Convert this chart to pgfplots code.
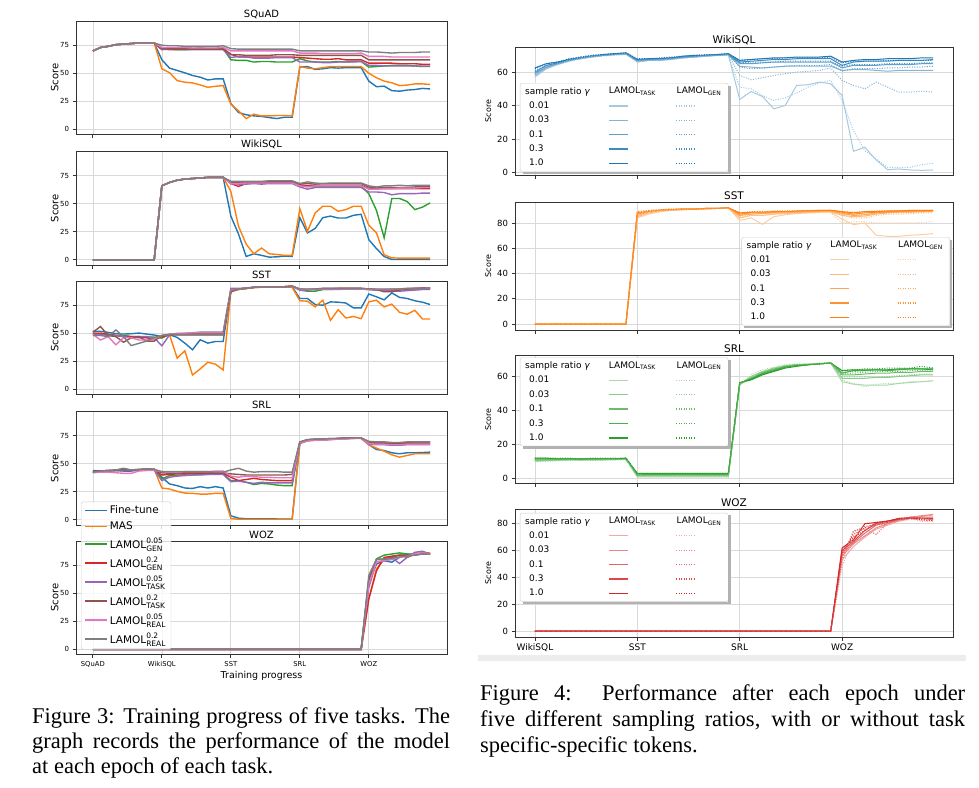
\documentclass[border=0pt]{standalone}
\usepackage{pgfplots}
\pgfplotsset{compat=1.18}
\usepackage{pgfplotstable}
\usepackage{fontspec}
\setmainfont{DejaVu Sans}
\newfontfamily\capfont{Liberation Serif}
\definecolor{c0}{HTML}{1F77B4}
\definecolor{c1}{HTML}{FF7F0E}
\definecolor{c2}{HTML}{2CA02C}
\definecolor{c3}{HTML}{D62728}
\definecolor{c4}{HTML}{9467BD}
\definecolor{c5}{HTML}{8C564B}
\definecolor{c6}{HTML}{E377C2}
\definecolor{c7}{HTML}{7F7F7F}

\pgfplotstableread[row sep=\\]{
x ft mas g05 g2 t05 t2 r05 r2\\
0 70 70 70 70 70 70 70 69.5\\
1 73 73 73 73 73 73 73 73\\
2 74 74 74 74 74 74 74 74\\
3 75.5 75.5 75.5 75.5 75.5 75.5 75.5 75.5\\
4 76 76 76 76 76 76 76 76\\
5 76.5 76.5 76.5 76.5 76.5 76.5 76.5 76.5\\
6 77 77 77 77 77 77 77 77\\
7 77 77 77 77 77 77 77 77\\
8 77 77 77 77 77 77 77 77\\
9 62 54 72 71 71.5 72 73 75\\
10 54.6 50.5 71.5 72 71 71.5 73 74.5\\
11 52.5 43.5 71 72.5 71 71.5 73 74.5\\
12 50.4 42 71 72 71 71.5 73 74\\
13 48 41.4 71.5 72 71 71.5 72.5 74\\
14 46.5 39.6 71.5 72.5 71 71.5 72.5 74\\
15 44 37.5 71.5 72 71 71.5 72.5 74\\
16 45 38.4 71.5 72 71 71.5 72.5 74\\
17 45 39 72 72 71 71.5 73 74.5\\
18 23 22.5 62 67 64 66.5 70 72\\
19 15 16.5 61.5 64.5 65 66.5 70 71.5\\
20 13 9.6 61.5 64.5 64.5 66 70 71.5\\
21 12 13.5 60 64.5 63.5 66 70 71.5\\
22 11.5 12 60.5 64.5 63.5 66 70 71.5\\
23 10.5 12 60.5 64.5 63.5 66 70 71.5\\
24 9.6 12.3 60 64.5 64 66.5 70 71.5\\
25 10.8 12.3 60 64.5 64 66.5 70 71.5\\
26 10.8 12 60 64.5 64 66.5 70 71.5\\
27 55.5 56 63 64 60 66 68 70\\
28 56 54.6 61 63.5 60 66 68 70\\
29 53.4 54 60 63 60 66 68 70\\
30 54 55 60 62.5 59.5 66 67.5 70\\
31 55 56 60 62.5 59.5 66 67.5 70\\
32 54.6 56 60.5 63 60 66 67.5 70\\
33 55 56 60 62 60 66 67.5 70\\
34 55 56 60.5 62 60 66 67.5 70\\
35 55 56 60.5 62 60.5 66 68 70\\
36 43 50 55.5 59 57 62 65 69\\
37 38 46 56 59 57 62 65 69\\
38 38.5 43 56.5 59 56.5 62 65 68.5\\
39 34.5 41.5 57 59 56.5 62 64.5 68\\
40 34 39 57 58.5 56.5 62 64.5 68.5\\
41 35 39.5 57 58.5 56.5 62 64.5 68.5\\
42 35.5 40.5 56.5 58.5 56.5 62 64.5 68.5\\
43 36.5 40.5 56 58 56.5 62 64.5 69\\
44 36 40 56 58 56.5 62 64.5 69\\
}\sq

\pgfplotstableread[row sep=\\]{
x ft mas g05 g2 t05 t2 r05 r2\\
0 0 0 0 0 0 0 0 0\\
8 0 0 0 0 0 0 0 0\\
9 66 66 66 66 66 66 66 66\\
10 69 69 69 69 69 69 69 69\\
11 71 71 71 71 71 71 71 71\\
12 72 72 72 72 72 72 72 72\\
13 72.5 72.5 72.5 72.5 72.5 72.5 72.5 72.5\\
14 73 73 73 73 73 73 73 73\\
15 73.5 73.5 73.5 73.5 73.5 73.5 73.5 73.5\\
16 73.5 73.5 73.5 73.5 73.5 73.5 73.5 73.5\\
17 73.5 73.5 73.5 73.5 73.5 73.5 73.5 73.5\\
18 39 61 69 68 68 69.5 68 70\\
19 23 30 68.5 65.5 67.5 69 68 70\\
20 3 14 68.5 68 67.5 69 68.5 70\\
21 5.4 5.4 68.5 68.5 68 69 68.5 70\\
22 4 10.5 68.5 68.5 67.5 69.5 68.5 70\\
23 2.4 5.4 68.5 68.5 68 69.5 68.5 70.5\\
24 2.7 4.8 68.5 68.5 68 69.5 68.5 70.5\\
25 3.3 4 68.5 68.5 68 69.5 68.5 70.5\\
26 3 4 68.5 68.5 68 69.5 68.5 70.5\\
27 37.6 45.7 66 67 65 68 66 68\\
28 24 25.4 65.5 66 63 68 65 69.5\\
29 28 41.8 65 66.5 64.5 67.5 66 68.5\\
30 37.6 47.8 65 66.5 64.5 68 66 68\\
31 39 47.8 65 66.5 64.5 68 66 68.5\\
32 37.3 43.3 65 66.5 64.5 68 66 68.5\\
33 37.3 44.8 65 66.5 64.5 68 66 68.5\\
34 39.7 47.8 65 66.5 64.5 68 66 68.5\\
35 40.6 47.8 65.5 66.5 64.5 68 66 68.5\\
36 18 30.8 59 63.5 60.5 65 63 66\\
37 10 24 44 63.5 60.5 64 63 65\\
38 3 4.5 19.7 63.5 60 64.5 63.5 66\\
39 0.3 1.8 54.7 63.5 58 64.5 63.5 66\\
40 0.3 1.5 54.7 63.5 59 64.5 64 66.5\\
41 0.3 1.5 52 63.5 59 64.5 64 66\\
42 0.3 1.5 44.8 63.5 59 65 64 66.5\\
43 0.3 1.5 47 63.5 59.5 65 64.5 66.5\\
44 0.3 1.5 50.8 63.5 59.5 65 64.5 66.5\\
}\wk

\pgfplotstableread[row sep=\\]{
x ft mas g05 g2 t05 t2 r05 r2\\
0 51.7 50 50 50 49 51 49 48\\
1 51.7 50 49 50 49 56 44 48\\
2 50.8 49 49 49 48 48 47 47\\
3 49.6 48 48 48 48 47 39.7 53\\
4 49.3 48 48 47 47 42 46 47\\
5 49.6 47 47 47 46 46 46 39\\
6 50.2 47 47 46 47 47 44 41\\
7 49.3 46 46.5 46 47 43 44 43\\
8 48.4 46 46.5 45 46 43 45 46\\
9 47.2 48 45.7 47 38.8 48 48 48\\
10 48.7 48.7 49 48.5 48.5 49 49 49\\
11 46.3 27.8 49.5 49 50 48.5 49.5 49\\
12 41.2 34.4 49.5 49 50 48.5 50 49\\
13 35.3 12.8 49.5 49 50.5 48.5 50.5 49\\
14 44.2 18.2 49.5 49 51 48.5 50.5 49\\
15 41.2 24.2 49.5 49 51 48.5 50.5 49\\
16 42.7 22.4 49.5 49 51 48.5 50.5 49\\
17 42.7 17.3 49.5 49 51 48.5 50.5 49\\
18 88 87 88 87 90 88 88.5 88\\
19 89 89 89.5 89.5 90 89.5 89.5 89.5\\
20 90 90 90 90 90.5 90 90 90\\
21 91 90.5 91 91 91 91 91 91\\
22 91 91 91.5 91.5 91.5 91.5 91.5 91.5\\
23 91 91 91.5 91.5 91.5 91.5 91.5 91.5\\
24 91 91 91.5 91.5 91.5 91.5 91.5 91.5\\
25 91 91 91.5 91.5 91.5 91.5 91.5 91.5\\
26 91.5 91 92 92 92 92 92 92\\
27 81 79 88.5 89 88.5 89.5 89 89.5\\
28 81 78.6 87.5 89 88.5 89 89 89.5\\
29 75.6 73.5 87.5 89 89 89.5 89.5 89.5\\
30 75 79.5 89 89.5 89 90 89.5 90\\
31 78 61.5 89 89.5 89 90 89.5 90\\
32 77.7 71 89.5 90 89 90 89.5 90\\
33 77 63.6 89.5 90 89.5 90 89.5 90\\
34 72.6 65 89.5 90 89.5 90 89.5 90\\
35 72.6 63 89.5 90 89.5 90 89.5 90\\
36 85 78 89 89.5 89 89.5 89 89.5\\
37 82.5 79.5 88.5 89 88.5 89 89 89.5\\
38 79.8 73.5 88.5 89 88.5 87 89 89.5\\
39 86 76 89 88.5 87.5 87 89.5 89.5\\
40 82 68.7 89.5 89 87.5 88.5 89.5 89.5\\
41 81 67 89.5 89.5 88 89.5 90 90\\
42 79 70.5 89.5 90 88.5 90 90 90\\
43 77.7 62.7 90 90.5 89 90 90 90\\
44 75.6 62.7 90 90.5 89 90 90.5 90.5\\
}\ss

\pgfplotstableread[row sep=\\]{
x ft mas g05 g2 t05 t2 r05 r2\\
0 44 43 42.5 43 42.5 42.5 42 42.5\\
1 43.5 43 43 43.5 43 43.5 42.5 43.5\\
2 44 43.5 43.5 44 43.5 44 42.5 44\\
3 44 44 44 44 44 44.5 42 44.5\\
4 43.5 44 44 44.5 44 45 41.5 46\\
5 43.5 44 44.5 44.5 44 44.5 41.5 44.5\\
6 44.5 44.5 44.5 44.5 44.5 45 43.5 45\\
7 44.5 44.5 44.5 45 44.5 45.5 44 45.5\\
8 44.5 45 45 45 44.5 45 44 45\\
9 38 28.4 36.5 40 35 42 43 43\\
10 32 27.5 39.4 40.5 38 41.5 42.5 43\\
11 30.5 25.4 39.5 41 39 41.5 42.5 43\\
12 28.4 23.9 40 41 39.5 42 43 43\\
13 28 23.6 40 41.5 40 42 43 43\\
14 29.6 23 40.5 41.5 40 42 43 43\\
15 28.4 23 40.5 41.5 40.5 42 43 43\\
16 29.6 23.6 41 41.5 40.5 42 43.5 42.5\\
17 28.4 23.6 41 41.5 40.5 42 43.5 42.5\\
18 3.6 1.2 35 38 34 41 39 44.5\\
19 1.5 0.5 35 35 34.5 40.5 38 46\\
20 1 0.5 33.5 36 33.5 40 39 43.5\\
21 1 0.5 31.5 37 32.5 40 38.5 42.5\\
22 1 0.5 32.5 36 33.5 40 38 43\\
23 1 0.5 32 35.5 33 40 38 43\\
24 0.8 0.5 31 35 33 40 37.5 43\\
25 0.8 0.5 30.5 35 33 40 37.5 42.5\\
26 0.8 0.5 30.5 35 33 40.5 37.5 42.5\\
27 68.7 67.8 69 69 68.5 69.5 68.5 69.5\\
28 71.4 70.5 71 71 70.5 71.5 70.5 71.5\\
29 71.7 71 71.5 71.5 71 72 71 72\\
30 71.4 71 71.5 71.5 71.5 72 71 72\\
31 72 71.5 72 72 72 72.5 71.5 72.5\\
32 72.6 72 72.5 72.5 72.5 72.5 72 72.5\\
33 72.9 72.5 72.5 72.5 72.5 73 72 73\\
34 73.2 72.5 73 73 73 73 72.5 73\\
35 72.9 72.5 73 73 73 73 73 73\\
36 67 67 69 68.5 67.5 69.5 68 70\\
37 62.7 64 68.5 68 67 69 67.5 69.5\\
38 61.8 61.2 68.5 68 67 69 67.5 69.5\\
39 59.8 58 68 67.5 66.5 68.5 67 69\\
40 58.9 55.9 68 67.5 66.5 68.5 67 69\\
41 59.8 57.4 68.5 68 67 69 67.5 69.5\\
42 59.8 58.9 68.5 68 67 69.5 67.5 69.5\\
43 60 58.9 68.5 68 67 69.5 67.5 69.5\\
44 60.4 58.9 68.5 68 67 69.5 67.5 69.5\\
}\sr

\pgfplotstableread[row sep=\\]{
x ft mas g05 g2 t05 t2 r05 r2\\
0 0 0 0 0 0 0 0 0\\
35 0 0 0 0 0 0 0 0\\
36 60 45 62 45 55 62 58 66\\
37 76 72 80.7 70 78 80 78 80.4\\
38 79 80 84 82 79 80.5 79 80.5\\
39 77.7 83 85 83 82 82 80 81\\
40 82 84 86 84 76.5 84 82 82.5\\
41 85 84 85 82 82 84 83 83\\
42 84 85 85 85 86.5 84 85 84\\
43 86 86 86 85 87.5 85 86 85\\
44 85 86 85 85 85 85 85 85\\
}\wz

\pgfplotstableread[row sep=\\]{
x t1 t3 t10 t30 t100 g1 g3 g10 g30 g100\\
0 57 58 59 60 62.5 57.5 58.5 59.5 61 62\\
1 62 62.5 63 64 65 62 63 63.5 64 65\\
2 64.5 65 65 65.5 66 64.5 65 65 65.5 66\\
3 66.5 67 67 67.5 67.5 66.5 67 67 67.5 68\\
4 68 68 68.5 68.5 68.5 68 68 68.5 69 69\\
5 69 69 69.5 69.5 69.5 69 69.5 69.5 70 70\\
6 70 70 70 70 70.5 69.5 70 70 70.5 70.5\\
7 70.5 70.5 70.5 71 71 70 70.5 70.5 71 71\\
8 71 71 71 71 71.5 70.5 71 71 71 71.5\\
9 66 66.5 67 67 67.5 66 66.5 67 67.5 68\\
10 67 67 67.5 67.5 68 67 67 67.5 68 68\\
11 67 67 67.5 68 68 67 67.5 67.5 68 68.5\\
12 67.5 68 68 68.5 68.5 67.5 68 68 68.5 69\\
13 68.5 68.5 69 69 69.5 68.5 68.5 69 69 69.5\\
14 69 69 69.5 69.5 70 69 69 69.5 69.5 70\\
15 69.5 69.5 70 70 70 69.5 69.5 70 70 70.5\\
16 70 70 70 70.5 70.5 70 70 70 70.5 70.5\\
17 70.5 70.5 70.5 70.5 71 70 70.5 70.5 71 71\\
18 43.6 63.4 65 66 67 51 58 63 65.5 67\\
19 48.4 63 65 66.5 67.5 50 55.4 62 66 67.5\\
20 45.4 62.4 65.5 67 68 46 56.6 62.5 66 68\\
21 38 63 66 67.5 68.5 43 58 63 66 68\\
22 40 63.5 66 67.5 68.5 44.6 59 63.5 66.5 68.5\\
23 52 63.5 66 68 69 47.4 60 64 66.5 68.5\\
24 52.4 63.5 66 68 69 51 60.4 64 66.5 68.5\\
25 54 63.5 66 68 69 53.4 61 64 66.5 68.5\\
26 53 63.5 66 68 69.5 55 62.4 64.5 66.5 69\\
27 46 61 62.5 64 66 43 55 60.5 63.5 65.5\\
28 12.6 61.5 64 66 67 25 52 62 64.5 66.5\\
29 15 61.5 64 66.5 67.5 13 50 62 64.5 66.5\\
30 7.4 61 64 66.5 67.5 8 54 62 64.5 66.5\\
31 1.6 60.5 64.5 66.5 68 3 51 62.5 65 67\\
32 2 61 64.5 67 68 3 48 62.5 65 67\\
33 1.4 61 64.5 67 68 3 48 63 65 67\\
34 1.2 61 65 67 68.5 4.6 48.6 63 65.5 67\\
35 1.4 61 65 67.5 68.5 5.4 48 63.5 65.5 67\\
}\rw

\pgfplotstableread[row sep=\\]{
x t1 t3 t10 t30 t100 g1 g3 g10 g30 g100\\
0 0 0 0 0 0 0 0 0 0 0\\
8 0 0 0 0 0 0 0 0 0 0\\
9 84 85 86 87 88 86 87 88 88.5 89\\
10 87 88 88.5 89 89 88 88.5 89 89.5 90\\
11 89 89.5 90 90 90 89.5 90 90 90.5 90.5\\
12 90 90 90.5 90.5 90.5 90 90.5 90.5 91 91\\
13 90.5 90.5 91 91 91 90.5 91 91 91 91\\
14 91 91 91 91 91 91 91 91 91 91\\
15 91 91 91.5 91.5 91.5 91 91.5 91.5 91.5 91.5\\
16 91.5 91.5 91.5 91.5 91.5 91.5 91.5 91.5 91.5 91.5\\
17 92 92 92 92 92 91.5 92 92 92 92\\
18 82 84 86 87 88 84 85 86 87 88\\
19 84 86 87 88 88.5 86 87 88 88.5 89\\
20 79 86 87.5 88 88.5 86 87.5 88 89 89\\
21 85 87 88 88.5 89 87 88 88.5 89 89.5\\
22 86.5 87.5 88 89 89 87.5 88 88.5 89 89.5\\
23 87.5 88 88.5 89 89.5 88 88.5 89 89.5 89.5\\
24 88 88.5 89 89.5 89.5 88 89 89 89.5 90\\
25 88.5 89 89 89.5 90 88 89 89.5 90 90\\
26 88.5 89 89.5 90 90 88 89 89.5 90 90\\
27 83 86 87.5 88.5 89 80 86 87 88 89\\
28 78.7 85 86 87 88 81 84 86 87 88.5\\
29 80 85.5 86.5 88 89 81 84 86.5 88 89\\
30 70.3 87 88 88.5 89 80 86 87.5 88.5 89.5\\
31 69.5 88 88.5 89 89.5 80 87 88 89 89.5\\
32 69.5 88.5 89 89.5 89.5 80 87 88 89 89.5\\
33 70.3 88.5 89 89.5 90 80 87.5 88.5 89.5 90\\
34 70.8 89 89.5 89.5 90 80.5 88 88.5 89.5 90\\
35 71.6 89 89.5 90 90 81 88 89 89.5 90\\
}\rs

\pgfplotstableread[row sep=\\]{
x t1 t3 t10 t30 t100 g1 g3 g10 g30 g100\\
0 10 10.5 11 11.5 12 10 10.5 11 11.5 12\\
1 10.5 11 11 11.5 12 10 11 11 11.5 12\\
2 10.5 11 11 11.5 11.5 10.5 11 11.5 11.5 12\\
3 11 11 11.5 11.5 11.5 10.5 11 11.5 11.5 12\\
4 11 11 11 11.5 11.5 11 11 11 11.5 11.5\\
5 11 11 11.5 11.5 11.5 10.5 11 11.5 11.5 12\\
6 11 11 11.5 11.5 11.5 11 11 11.5 11.5 12\\
7 11 11.5 11.5 11.5 11.5 11 11.5 11.5 11.5 12\\
8 11.5 11.5 11.5 11.5 12 11 11.5 11.5 12 12\\
9 1 1.5 2 2 3 1 1.5 2 2.5 3\\
10 1 1.5 2 2.5 3 1 1.5 2 2.5 3\\
11 1 1.5 2 2.5 3 1 1.5 2 2.5 3\\
12 1 1.5 2 2.5 3 1 1.5 2 2.5 3\\
13 1 1.5 2 2.5 3 1 1.5 2.5 2.5 3\\
14 1 1.5 2 2.5 3 1 1.5 2 2.5 3\\
15 1 1.5 2 2.5 3 1 1.5 2 2.5 3\\
16 1 1.5 2 2.5 3 1 1.5 2 2.5 3\\
17 1 1.5 2 2.5 3 1 1.5 2 2.5 3\\
18 55 55.5 56 56 56.5 55 55.5 56 56 56.5\\
19 60 59 59 58.5 58 61 60 59.5 59 58.5\\
20 63 62.5 62 61.5 61 64 63 62.5 62 61.5\\
21 65 64.5 64 63.5 63 65.5 65 64.5 64 63.5\\
22 66.5 66 66 65.5 65 67 66.5 66 65.5 65.5\\
23 67 67 66.5 66.5 66 67.5 67 67 66.5 66.5\\
24 67 67 67 67 67 67.5 67.5 67 67 67\\
25 67.5 67.5 67.5 67.5 67.5 68 67.5 67.5 67.5 67.5\\
26 68 68 68 68 68 68.5 68 68 68 68\\
27 57 59 61 62 63.5 58 60 61.5 62.5 63.5\\
28 55.5 59 61 63.5 64 56 60 62 63 64\\
29 55 59 61.5 63.5 64 54 60 62.5 63.5 64.5\\
30 55 59.5 62 64 64 55.5 59.5 63 64 64.5\\
31 55 59.5 62 63.5 64 56 60 63 64 65\\
32 56 60 62.5 64 64.5 56 60.5 63 64 65\\
33 56.5 60.5 62.5 64.5 64.5 57 61 63.5 64.5 65\\
34 57 61 63 64.5 64.5 57 61.5 63.5 64.5 66\\
35 57.5 61 63 64.5 64 57.5 61.5 64 65 65\\
}\rr

\pgfplotstableread[row sep=\\]{
x t1 t3 t10 t30 t100 g1 g3 g10 g30 g100\\
0 0 0 0 0 0 0 0 0 0 0\\
26 0 0 0 0 0 0 0 0 0 0\\
27 53 56 58 60 62 48 52 55 58 60\\
28 63 65 66 67 68 70 75 74 72 70\\
29 70 71 73 75 80 77 76 78 77 75\\
30 76 77 79 80 81 72 72 79 80 81\\
31 79 80 81 82 82 80 81 80 81 82\\
32 82 83 83 84 83.5 82 82 83 84 84\\
33 84 85 84 84.5 84 83 84 85 84 84.5\\
34 85.5 86 85 84 84 84 82 84 83 83\\
35 86.5 87 85 84 83.5 85 82 83 82.5 82.5\\
}\ro

\newcommand{\lam}[2]{$\mbox{LAMOL}^{\mbox{\fontsize{7.5}{8}\selectfont #1}}_{\mbox{\fontsize{7.5}{8}\selectfont #2}}$}

\pgfplotsset{
  base/.style={scale only axis, axis line style={black!80, line width=0.8pt},
    grid=major, major grid style={black!15, line width=0.7pt},
    tick align=outside, xtick pos=bottom, ytick pos=left, major tick length=3.5pt,
    every tick/.style={black!80, line width=0.8pt},
    /pgf/number format/assume math mode=true,
    every axis title/.style={at={(0.5,1)}, anchor=south, yshift=-1pt}},
  L/.style={base, width=371pt, height=113.5pt, xmin=-2.2, xmax=46.2, ymin=-4.6, ymax=96.6,
    xtick={0,9,18,27,36}, ytick={0,25,50,75}, xticklabels={},
    tick label style={font=\fontsize{7}{8}\selectfont},
    ylabel=Score, ylabel style={font=\fontsize{10}{11}\selectfont, at={(axis description cs:-0.057,0.5)}, anchor=center},
    title style={font=\fontsize{10}{11}\selectfont},
    every axis plot/.append style={line width=1.4pt}},
  R/.style={base, width=438pt, height=128pt, xmin=-1.75, xmax=36.75,
    xtick={0,9,18,27}, xticklabels={},
    tick label style={font=\fontsize{8.5}{9}\selectfont},
    ylabel=Score, ylabel style={font=\fontsize{8}{9}\selectfont, at={(axis description cs:-0.061,0.5)}, anchor=center},
    title style={font=\fontsize{10.5}{11}\selectfont},
    legend columns=3, legend cell align=left,
    legend style={font=\fontsize{9}{10}\selectfont, draw=black!20, fill=white, rounded corners=2pt,
      /tikz/every even column/.append style={column sep=16pt}, row sep=2.2pt}},
  hdrTASK/.style={legend image code/.code={\node[anchor=west,inner sep=0pt] at (0pt,0pt) {LAMOL\textsubscript{TASK}};}},
  hdrGEN/.style={legend image code/.code={\node[anchor=west,inner sep=0pt] at (0pt,0pt) {LAMOL\textsubscript{GEN}};}},
  rline/.style={legend image code/.code={\draw[##1, line width=1.3pt] (0pt,0pt) -- (19pt,0pt);}},
  rsol/.style={line width=1pt},
  rdot/.style={line width=1pt, dash pattern=on 1pt off 1.5pt},
}

\newcommand{\lplots}[1]{%
\addplot[color=c0] table[x=x,y=ft]{#1};
\addplot[color=c1] table[x=x,y=mas]{#1};
\addplot[color=c2] table[x=x,y=g05]{#1};
\addplot[color=c3] table[x=x,y=g2]{#1};
\addplot[color=c4] table[x=x,y=t05]{#1};
\addplot[color=c5] table[x=x,y=t2]{#1};
\addplot[color=c6] table[x=x,y=r05]{#1};
\addplot[color=c7] table[x=x,y=r2]{#1};}

\newcommand{\rplots}[2]{%
\addplot[forget plot,rsol,color=#2!40] table[x=x,y=t1]{#1};
\addplot[forget plot,rsol,color=#2!55] table[x=x,y=t3]{#1};
\addplot[forget plot,rsol,color=#2!70] table[x=x,y=t10]{#1};
\addplot[forget plot,rsol,color=#2!85] table[x=x,y=t30]{#1};
\addplot[forget plot,rsol,color=#2] table[x=x,y=t100]{#1};
\addplot[forget plot,rdot,color=#2!40] table[x=x,y=g1]{#1};
\addplot[forget plot,rdot,color=#2!55] table[x=x,y=g3]{#1};
\addplot[forget plot,rdot,color=#2!70] table[x=x,y=g10]{#1};
\addplot[forget plot,rdot,color=#2!85] table[x=x,y=g30]{#1};
\addplot[forget plot,rdot,color=#2] table[x=x,y=g100]{#1};}

\newcommand{\rleg}[1]{%
\addlegendimage{empty legend}\addlegendentry{sample ratio \textit{γ}}%
\addlegendimage{hdrTASK}\addlegendentry{}%
\addlegendimage{hdrGEN}\addlegendentry{}%
\addlegendimage{empty legend}\addlegendentry{\hspace{4pt}0.01}%
\addlegendimage{rline,rsol,color=#1!40}\addlegendentry{}%
\addlegendimage{rline,rdot,color=#1!40}\addlegendentry{}%
\addlegendimage{empty legend}\addlegendentry{\hspace{4pt}0.03}%
\addlegendimage{rline,rsol,color=#1!55}\addlegendentry{}%
\addlegendimage{rline,rdot,color=#1!55}\addlegendentry{}%
\addlegendimage{empty legend}\addlegendentry{\hspace{4pt}0.1}%
\addlegendimage{rline,rsol,color=#1!70}\addlegendentry{}%
\addlegendimage{rline,rdot,color=#1!70}\addlegendentry{}%
\addlegendimage{empty legend}\addlegendentry{\hspace{4pt}0.3}%
\addlegendimage{rline,rsol,color=#1!85}\addlegendentry{}%
\addlegendimage{rline,rdot,color=#1!85}\addlegendentry{}%
\addlegendimage{empty legend}\addlegendentry{\hspace{4pt}1.0}%
\addlegendimage{rline,rsol,color=#1}\addlegendentry{}%
\addlegendimage{rline,rdot,color=#1}\addlegendentry{}%
}
\newcommand{\lshadow}[1]{%
\fill[black!30] ([shift={(0pt,-2.5pt)}]#1.north east) rectangle ([shift={(2.5pt,-2.5pt)}]#1.south east);
\fill[black!30] ([shift={(2.5pt,0pt)}]#1.south west) rectangle ([shift={(2.5pt,-2.5pt)}]#1.south east);}

\begin{document}
\begin{tikzpicture}
\useasboundingbox (0,0) rectangle (979pt,-787pt);
% ---------- left figure ----------
\begin{axis}[L, at={(76pt,-21pt)}, anchor=north west, title={SQuAD}]
\lplots{\sq}
\end{axis}
\begin{axis}[L, at={(76pt,-151.5pt)}, anchor=north west, title={WikiSQL}]
\lplots{\wk}
\end{axis}
\begin{axis}[L, at={(76pt,-281pt)}, anchor=north west, title={SST}]
\lplots{\ss}
\end{axis}
\begin{axis}[L, at={(76pt,-411.5pt)}, anchor=north west, title={SRL}]
\lplots{\sr}
\end{axis}
\begin{axis}[L, at={(76pt,-541pt)}, anchor=north west, title={WOZ},
  xticklabels={SQuAD,WikiSQL,SST,SRL,WOZ}, xticklabel style={font=\fontsize{6.8}{7}\selectfont},
  xlabel={Training progress}, xlabel style={font=\fontsize{9.5}{10}\selectfont, yshift=3pt},
  legend cell align=left,
  legend image code/.code={\draw[#1, line width=1.6pt] (0pt,0pt) -- (22pt,0pt);},
  legend style={at={(rel axis cs:0.0135,0.045)}, anchor=south west, font=\fontsize{10.5}{11}\selectfont,
    draw=black!20, fill=white, fill opacity=0.8, text opacity=1, rounded corners=2pt, row sep=2.6pt}]
\lplots{\wz}
\legend{Fine-tune,MAS,\lam{0.05}{GEN},\lam{0.2}{GEN},\lam{0.05}{TASK},\lam{0.2}{TASK},\lam{0.05}{REAL},\lam{0.2}{REAL}}
\end{axis}
% ---------- right figure ----------
\begin{axis}[R, at={(515pt,-47pt)}, anchor=north west, title={WikiSQL},
  ymin=-1.6, ymax=75, ytick={0,20,40,60},
  legend style={name=lgA, at={(rel axis cs:0.0114,0.026)}, anchor=south west}]
\rleg{c0}
\rplots{\rw}{c0}
\end{axis}
\lshadow{lgA}
\begin{axis}[R, at={(515pt,-202pt)}, anchor=north west, title={SST},
  ymin=-4.6, ymax=96.6, ytick={0,20,40,60,80},
  legend style={name=lgB, at={(rel axis cs:0.993,0.034)}, anchor=south east}]
\rleg{c1}
\rplots{\rs}{c1}
\end{axis}
\lshadow{lgB}
\begin{axis}[R, at={(515pt,-355.5pt)}, anchor=north west, title={SRL},
  ymin=-2.95, ymax=72.4, ytick={0,20,40,60},
  legend style={name=lgC, at={(rel axis cs:0.0114,0.984)}, anchor=north west}]
\rleg{c2}
\rplots{\rr}{c2}
\end{axis}
\lshadow{lgC}
\begin{axis}[R, at={(515pt,-509pt)}, anchor=north west, title={WOZ},
  ymin=-4.4, ymax=91, ytick={0,20,40,60,80},
  xticklabels={WikiSQL,SST,SRL,WOZ}, xticklabel style={font=\fontsize{9}{10}\selectfont},
  legend style={name=lgD, at={(rel axis cs:0.0114,0.969)}, anchor=north west}]
\rleg{c3}
\rplots{\ro}{c3}
\end{axis}
\lshadow{lgD}
\fill[black!7] (478pt,-655pt) rectangle (966pt,-661pt);
% ---------- captions ----------
\begin{scope}[every node/.style={anchor=base west, inner sep=0pt, font=\capfont\fontsize{22.5}{26}\selectfont}]
\node at (32pt,-723pt) {\makebox[418pt][s]{Figure 3: Training progress of five tasks. The}};
\node at (32pt,-748pt) {\makebox[418pt][s]{graph records the performance of the model}};
\node at (32pt,-773pt) {at each epoch of each task.};
\node at (480pt,-700pt) {\makebox[485pt][s]{Figure 4:\ \ Performance after each epoch under}};
\node at (480pt,-726pt) {\makebox[485pt][s]{five different sampling ratios, with or without task}};
\node at (480pt,-752pt) {specific-specific tokens.};
\end{scope}
\end{tikzpicture}
\end{document}
